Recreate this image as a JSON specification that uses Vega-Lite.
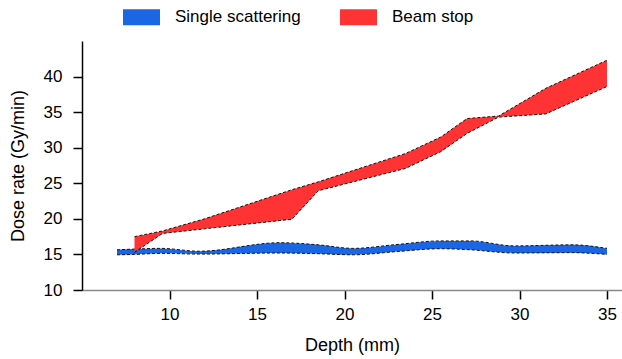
{
  "$schema": "https://vega.github.io/schema/vega-lite/v6.json",
  "autosize": {"type": "none"},
  "padding": {"left": 82, "top": 41, "right": 0, "bottom": 69},
  "width": 540,
  "height": 249,
  "background": "white",
  "data": {
    "values": [
      {"s": "Single scattering", "x": 7, "lo": 14.95, "hi": 15.65},
      {"s": "Single scattering", "x": 8, "lo": 15.0, "hi": 15.75},
      {"s": "Single scattering", "x": 9.5, "lo": 15.15, "hi": 15.85},
      {"s": "Single scattering", "x": 11.7, "lo": 15.05, "hi": 15.45},
      {"s": "Single scattering", "x": 16.3, "lo": 15.2, "hi": 16.65},
      {"s": "Single scattering", "x": 18.5, "lo": 15.1, "hi": 16.35},
      {"s": "Single scattering", "x": 20.5, "lo": 14.95, "hi": 15.85},
      {"s": "Single scattering", "x": 23, "lo": 15.4, "hi": 16.4},
      {"s": "Single scattering", "x": 25.5, "lo": 15.8, "hi": 16.9},
      {"s": "Single scattering", "x": 27.2, "lo": 15.65, "hi": 16.9},
      {"s": "Single scattering", "x": 29.7, "lo": 15.2, "hi": 16.2},
      {"s": "Single scattering", "x": 33, "lo": 15.25, "hi": 16.35},
      {"s": "Single scattering", "x": 35, "lo": 15.0, "hi": 15.85},
      {"s": "Beam stop", "x": 8, "lo": 15.3, "hi": 17.5},
      {"s": "Beam stop", "x": 9.6, "lo": 17.95, "hi": 18.3},
      {"s": "Beam stop", "x": 12, "lo": 18.6, "hi": 20.0},
      {"s": "Beam stop", "x": 17, "lo": 19.95, "hi": 24.1},
      {"s": "Beam stop", "x": 18.5, "lo": 23.95, "hi": 25.2},
      {"s": "Beam stop", "x": 23.5, "lo": 27.1, "hi": 29.2},
      {"s": "Beam stop", "x": 25.5, "lo": 29.45, "hi": 31.5},
      {"s": "Beam stop", "x": 27, "lo": 32.0, "hi": 34.1},
      {"s": "Beam stop", "x": 28.8, "lo": 34.3, "hi": 34.45},
      {"s": "Beam stop", "x": 31.5, "lo": 34.75, "hi": 38.35},
      {"s": "Beam stop", "x": 35, "lo": 38.6, "hi": 42.3}
    ]
  },
  "encoding": {
    "x": {
      "field": "x", "type": "quantitative",
      "scale": {"domain": [5, 35.857], "nice": false, "zero": false},
      "axis": {
        "title": "Depth (mm)",
        "values": [10, 15, 20, 25, 30, 35],
        "grid": false,
        "domainColor": "#888888", "domainWidth": 1.5,
        "tickColor": "black", "tickWidth": 1.5, "tickSize": 9,
        "labelPadding": 7, "titlePadding": 14
      }
    }
  },
  "layer": [
    {
      "transform": [{"filter": "datum.s == 'Single scattering'"}],
      "mark": {"type": "area", "interpolate": "monotone", "opacity": 1},
      "encoding": {
        "y": {
          "field": "lo", "type": "quantitative",
          "scale": {"domain": [10, 45], "nice": false, "zero": false},
          "axis": {
            "title": "Dose rate (Gy/min)",
            "values": [10, 15, 20, 25, 30, 35, 40],
            "grid": false,
            "domainColor": "black", "domainWidth": 1.5,
            "tickColor": "black", "tickWidth": 1.5, "tickSize": 9,
            "labelPadding": 11, "titlePadding": 16
          }
        },
        "y2": {"field": "hi"},
        "color": {
          "field": "s", "type": "nominal",
          "scale": {"domain": ["Single scattering", "Beam stop"], "range": ["#1a66e5", "#ff3333"]},
          "legend": {
            "title": null, "orient": "none", "direction": "horizontal",
            "legendX": 41, "legendY": -42.5
          }
        }
      }
    },
    {
      "transform": [{"filter": "datum.s == 'Single scattering'"}],
      "mark": {"type": "line", "interpolate": "monotone", "color": "#111111", "strokeWidth": 1, "strokeDash": [3, 2]},
      "encoding": {"y": {"field": "lo", "type": "quantitative"}}
    },
    {
      "transform": [{"filter": "datum.s == 'Single scattering'"}],
      "mark": {"type": "line", "interpolate": "monotone", "color": "#111111", "strokeWidth": 1, "strokeDash": [3, 2]},
      "encoding": {"y": {"field": "hi", "type": "quantitative"}}
    },
    {
      "transform": [{"filter": "datum.s == 'Beam stop'"}],
      "mark": {"type": "area", "interpolate": "linear", "opacity": 1},
      "encoding": {
        "y": {"field": "lo", "type": "quantitative"},
        "y2": {"field": "hi"},
        "color": {"field": "s", "type": "nominal"}
      }
    },
    {
      "transform": [{"filter": "datum.s == 'Beam stop'"}],
      "mark": {"type": "line", "interpolate": "linear", "color": "#111111", "strokeWidth": 1, "strokeDash": [3, 2]},
      "encoding": {"y": {"field": "lo", "type": "quantitative"}}
    },
    {
      "transform": [{"filter": "datum.s == 'Beam stop'"}],
      "mark": {"type": "line", "interpolate": "linear", "color": "#111111", "strokeWidth": 1, "strokeDash": [3, 2]},
      "encoding": {"y": {"field": "hi", "type": "quantitative"}}
    },
    {
      "data": {"values": [{}]},
      "mark": {"type": "rule", "color": "black", "strokeWidth": 1},
      "encoding": {"y": {"datum": 45}}
    }
  ],
  "config": {
    "view": {"stroke": null},
    "font": "Liberation Sans",
    "axis": {
      "labelFont": "Liberation Sans", "labelFontSize": 17, "labelColor": "black",
      "titleFont": "Liberation Sans", "titleFontSize": 18, "titleFontWeight": "normal", "titleColor": "black"
    },
    "legend": {
      "labelFont": "Liberation Sans", "labelFontSize": 17, "labelColor": "black",
      "symbolType": "M-1,-0.432H1V0.432H-1Z",
      "symbolSize": 1369,
      "symbolStrokeWidth": 0,
      "symbolOpacity": 1,
      "labelOffset": 15,
      "columnPadding": 39
    }
  }
}
